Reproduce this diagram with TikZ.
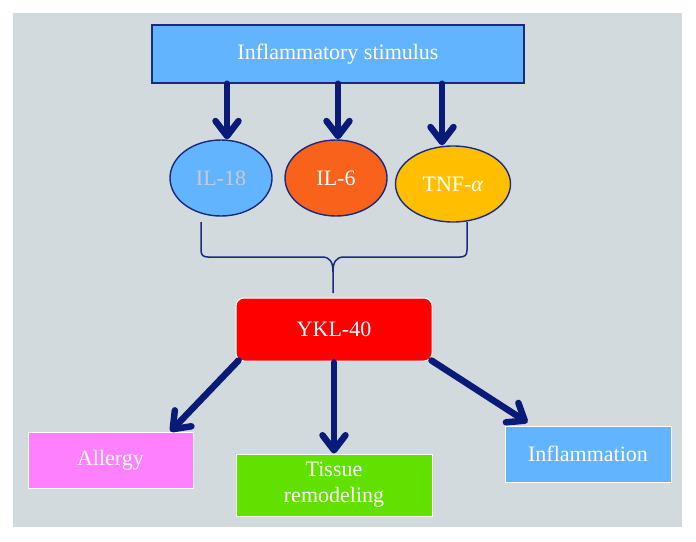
\documentclass[tikz,border=0pt]{standalone}
\usepackage{fontspec}
\setmainfont{Liberation Serif}
\usetikzlibrary{shapes.geometric,arrows.meta,calc}
\definecolor{bggray}{HTML}{D3DADD}
\definecolor{lblue}{HTML}{62B4FF}
\definecolor{orng}{HTML}{F9621A}
\definecolor{yell}{HTML}{FFBF00}
\definecolor{pinkc}{HTML}{FF80FF}
\definecolor{greenc}{HTML}{62E000}
\definecolor{navy}{HTML}{0A1A78}
\definecolor{edgenavy}{HTML}{1A2A80}
\definecolor{ltext}{HTML}{C8CAD2}
\begin{document}
\begin{tikzpicture}[x=1pt,y=-1pt,
  txt/.style={font=\fontsize{22}{26}\selectfont, text=white, inner sep=0pt, align=center},
  topbox/.style={txt, draw=edgenavy, line width=1.4pt, fill=lblue, minimum width=372pt, minimum height=58pt},
  cyto/.style={txt, ellipse, draw=edgenavy, line width=1.4pt, minimum height=76pt},
  ykbox/.style={txt, rounded corners=8pt, draw=white, line width=1pt, fill=red, minimum width=196pt, minimum height=63pt},
  outbox/.style={txt, draw=white, line width=1pt, minimum height=56pt},
  arr/.style={draw=navy, line width=6.5pt, line cap=round, line join=round,
    -{Straight Barb[length=15pt, width=23pt, line cap=round, line join=round]}},
  brace/.style={draw=edgenavy, line width=1.5pt}
]
\useasboundingbox (0,0) rectangle (696,541);
\fill[bggray] (13,13) rectangle (682,527);

\node[topbox] (stim) at (338,54) {Inflammatory stimulus};

\node[cyto, fill=lblue, minimum width=102pt, text=ltext] (il18) at (221,178) {IL-18};
\node[cyto, fill=orng, minimum width=102pt] (il6) at (336,178) {IL-6};
\node[cyto, fill=yell, minimum width=115pt] (tnf) at (453,184) {TNF-\textit{α}};

\node[ykbox] (ykl) at (334,329.5) {YKL-40};

\node[outbox, fill=pinkc, minimum width=165pt] (allergy) at (110.5,460) {Allergy};
\node[outbox, fill=greenc, minimum width=196pt, minimum height=62pt] (tissue) at (334,485) {Tissue\\remodeling};
\node[outbox, fill=lblue, minimum width=166pt] (infl) at (588,454) {Inflammation};

% top arrows
\draw[arr] ([xshift=6pt]il18.north |- stim.south) -- ([xshift=6pt]il18.north);
\draw[arr] ([xshift=2pt]il6.north |- stim.south) -- ([xshift=2pt]il6.north);
\draw[arr] ([xshift=-11pt]tnf.north |- stim.south) -- ([xshift=-11pt]tnf.north);

% brace
\coordinate (bl) at (201,222);
\coordinate (br) at (467,222);
\draw[brace] (bl) -- (201,250) .. controls (201,255) and (203,257) .. (208,257)
  -- (322,257) .. controls (330,257) and (333,262) .. (333,272) -- (333,293);
\draw[brace] (br) -- (467,250) .. controls (467,255) and (465,257) .. (460,257)
  -- (344,257) .. controls (336,257) and (333,262) .. (333,272);

% bottom arrows
\draw[arr] ([xshift=3pt,yshift=1pt]ykl.south west) -- ([xshift=-23pt]allergy.north east);
\draw[arr] ([yshift=-1pt]tissue.north |- ykl.south) -- (tissue.north);
\draw[arr] ([xshift=-1pt,yshift=1pt]ykl.south east) -- ([xshift=23pt,yshift=3pt]infl.north west);
\end{tikzpicture}
\end{document}
